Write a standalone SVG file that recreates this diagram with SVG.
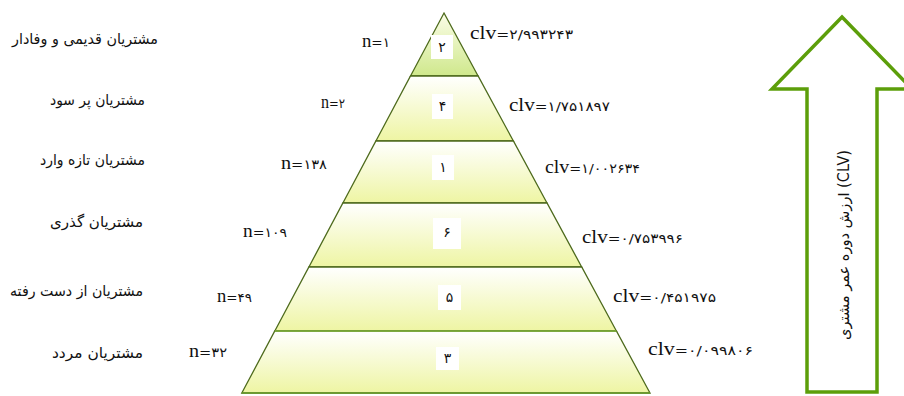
<svg xmlns="http://www.w3.org/2000/svg" width="904" height="396" viewBox="0 0 904 396">
<defs>
<linearGradient id="gTop" x1="0" y1="0" x2="0" y2="1">
<stop offset="0" stop-color="#fbfde8"/><stop offset="1" stop-color="#cfe88c"/>
</linearGradient>
<linearGradient id="gBand" x1="0" y1="0" x2="0" y2="1">
<stop offset="0" stop-color="#ffffff"/><stop offset="1" stop-color="#eef5a3"/>
</linearGradient>
<style>
.band{fill:url(#gBand);stroke:#4d6a1c;stroke-width:1.3}
.top{fill:url(#gTop);stroke:#4d6a1c;stroke-width:1.3}
.box{fill:#ffffff}
.dig{font-family:"DejaVu Sans",sans-serif;font-size:14px;fill:#111;text-anchor:middle}
.lab{font-family:"DejaVu Sans",sans-serif;font-size:15px;fill:#111;text-anchor:end}
.val{font-family:"Liberation Serif","DejaVu Sans",serif;font-size:18px;fill:#111}
.num{font-family:"DejaVu Sans",sans-serif;font-size:13px}
.arrow{fill:#ffffff;stroke:#5c9e0a;stroke-width:3.5;stroke-linejoin:miter}
.atext{font-family:"DejaVu Sans",sans-serif;font-size:15px;fill:#111;text-anchor:middle}
</style>
</defs>
<rect width="904" height="396" fill="#ffffff"/>

<g id="level1">
<polygon class="top" points="444,13 478.1,76 410.5,76"/>
<rect class="box" x="431" y="35" width="22" height="24"/>
<text class="dig" x="442" y="52">۲</text>
<text class="lab" x="158" y="44" textLength="146" lengthAdjust="spacingAndGlyphs">مشتریان قدیمی و وفادار</text>
<text class="val" x="362" y="47" textLength="28" lengthAdjust="spacingAndGlyphs">n<tspan class="num">=۱</tspan></text>
<text class="val" x="470" y="39" textLength="103" lengthAdjust="spacingAndGlyphs">clv<tspan class="num">=۲/۹۹۳۲۴۳</tspan></text>
</g>

<g id="level2">
<polygon class="band" points="410.5,76 478.1,76 513.4,141 375.9,141"/>
<rect class="box" x="432" y="94" width="21" height="25"/>
<text class="dig" x="442.5" y="111">۴</text>
<text class="lab" x="145" y="105" textLength="95" lengthAdjust="spacingAndGlyphs">مشتریان پر سود</text>
<text class="val" x="321" y="108" textLength="24" lengthAdjust="spacingAndGlyphs">n<tspan class="num">=۲</tspan></text>
<text class="val" x="509" y="111" textLength="101" lengthAdjust="spacingAndGlyphs">clv<tspan class="num">=۱/۷۵۱۸۹۷</tspan></text>
</g>

<g id="level3">
<polygon class="band" points="375.9,141 513.4,141 547,203 342.9,203"/>
<rect class="box" x="432" y="155" width="22" height="25"/>
<text class="dig" x="443" y="172">۱</text>
<text class="lab" x="145" y="165" textLength="105" lengthAdjust="spacingAndGlyphs">مشتریان تازه وارد</text>
<text class="val" x="281" y="169" textLength="46" lengthAdjust="spacingAndGlyphs">n<tspan class="num">=۱۳۸</tspan></text>
<text class="val" x="545" y="173" textLength="95" lengthAdjust="spacingAndGlyphs">clv<tspan class="num">=۱/۰۰۲۶۳۴</tspan></text>
</g>

<g id="level4">
<polygon class="band" points="342.9,203 547,203 581.7,267 308.9,267"/>
<rect class="box" x="433" y="218" width="28" height="31"/>
<text class="dig" x="447" y="237">۶</text>
<text class="lab" x="143" y="227" textLength="93" lengthAdjust="spacingAndGlyphs">مشتریان گذری</text>
<text class="val" x="243" y="237" textLength="44" lengthAdjust="spacingAndGlyphs">n<tspan class="num">=۱۰۹</tspan></text>
<text class="val" x="582" y="243" textLength="101" lengthAdjust="spacingAndGlyphs">clv<tspan class="num">=۰/۷۵۳۹۹۶</tspan></text>
</g>

<g id="level5">
<polygon class="band" points="308.9,267 581.7,267 616.4,331 274.8,331"/>
<rect class="box" x="438" y="285" width="23" height="25"/>
<text class="dig" x="449.5" y="302">۵</text>
<text class="lab" x="143" y="296" textLength="133" lengthAdjust="spacingAndGlyphs">مشتریان از دست رفته</text>
<text class="val" x="217" y="302" textLength="35" lengthAdjust="spacingAndGlyphs">n<tspan class="num">=۴۹</tspan></text>
<text class="val" x="613" y="302" textLength="103" lengthAdjust="spacingAndGlyphs">clv<tspan class="num">=۰/۴۵۱۹۷۵</tspan></text>
</g>

<g id="level6">
<polygon class="band" points="274.8,331 616.4,331 650,393 241.8,393"/>
<line x1="274.8" y1="331" x2="616.4" y2="331" stroke="#7fb23a" stroke-width="1.5"/>
<line x1="241.8" y1="393" x2="650" y2="393" stroke="#6a9e2a" stroke-width="1.5"/>
<rect class="box" x="436" y="347" width="23" height="23"/>
<text class="dig" x="447.5" y="363">۳</text>
<text class="lab" x="143" y="358" textLength="91" lengthAdjust="spacingAndGlyphs">مشتریان مردد</text>
<text class="val" x="189" y="357" textLength="38" lengthAdjust="spacingAndGlyphs">n<tspan class="num">=۳۲</tspan></text>
<text class="val" x="648" y="355" textLength="105" lengthAdjust="spacingAndGlyphs">clv<tspan class="num">=۰/۰۹۹۸۰۶</tspan></text>
</g>

<g id="connectors">
<g id="clv-arrow">
<polygon class="arrow" points="842,17 912,89 877,89 877,392 807,392 807,89 772,89"/>
<text class="atext" transform="translate(849,245) rotate(-90)" textLength="190" lengthAdjust="spacingAndGlyphs">ارزش دوره عمر مشتری (CLV)</text>
</g>
</g>
</svg>
